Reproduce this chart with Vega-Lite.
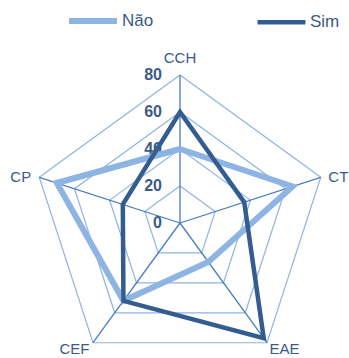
{
  "$schema": "https://vega.github.io/schema/vega-lite/v6.json",
  "width": 349,
  "height": 358,
  "autosize": {"type": "none"},
  "padding": 0,
  "background": "white",
  "config": {"view": {"stroke": null}},
  "datasets": {
    "scores": [
      {"axis": "CCH", "series": "Não", "value": 40},
      {"axis": "CT", "series": "Não", "value": 64},
      {"axis": "EAE", "series": "Não", "value": 26},
      {"axis": "CEF", "series": "Não", "value": 52},
      {"axis": "CP", "series": "Não", "value": 70},
      {"axis": "CCH", "series": "Sim", "value": 60},
      {"axis": "CT", "series": "Sim", "value": 36.5},
      {"axis": "EAE", "series": "Sim", "value": 77},
      {"axis": "CEF", "series": "Sim", "value": 52},
      {"axis": "CP", "series": "Sim", "value": 32.5}
    ],
    "grid": [
      {"axis": "CCH", "level": 0}, {"axis": "CT", "level": 0}, {"axis": "EAE", "level": 0}, {"axis": "CEF", "level": 0}, {"axis": "CP", "level": 0},
      {"axis": "CCH", "level": 20}, {"axis": "CT", "level": 20}, {"axis": "EAE", "level": 20}, {"axis": "CEF", "level": 20}, {"axis": "CP", "level": 20},
      {"axis": "CCH", "level": 40}, {"axis": "CT", "level": 40}, {"axis": "EAE", "level": 40}, {"axis": "CEF", "level": 40}, {"axis": "CP", "level": 40},
      {"axis": "CCH", "level": 60}, {"axis": "CT", "level": 60}, {"axis": "EAE", "level": 60}, {"axis": "CEF", "level": 60}, {"axis": "CP", "level": 60},
      {"axis": "CCH", "level": 80}, {"axis": "CT", "level": 80}, {"axis": "EAE", "level": 80}, {"axis": "CEF", "level": 80}, {"axis": "CP", "level": 80}
    ]
  },
  "encoding": {
    "x": {"field": "x", "type": "quantitative", "scale": {"domain": [-97.3, 91.35], "nice": false, "zero": false}, "axis": null},
    "y": {"field": "y", "type": "quantitative", "scale": {"domain": [-72.97, 120.54], "nice": false, "zero": false}, "axis": null}
  },
  "layer": [
    {
      "data": {"name": "grid"},
      "transform": [
        {"filter": "datum.level > 0"},
        {"calculate": "indexof(['CCH','CT','EAE','CEF','CP'], datum.axis)", "as": "idx"},
        {"calculate": "datum.level * sin(datum.idx * 2 * PI / 5)", "as": "x"},
        {"calculate": "datum.level * cos(datum.idx * 2 * PI / 5)", "as": "y"}
      ],
      "mark": {"type": "line", "interpolate": "linear-closed", "stroke": "#8EB4E3", "strokeWidth": 1.2, "clip": false},
      "encoding": {
        "detail": {"field": "level", "type": "nominal"},
        "order": {"field": "idx", "type": "quantitative"}
      }
    },
    {
      "data": {"name": "grid"},
      "transform": [
        {"filter": "datum.level == 80"},
        {"calculate": "indexof(['CCH','CT','EAE','CEF','CP'], datum.axis)", "as": "idx"},
        {"calculate": "datum.level * sin(datum.idx * 2 * PI / 5)", "as": "x"},
        {"calculate": "datum.level * cos(datum.idx * 2 * PI / 5)", "as": "y"},
        {"calculate": "0", "as": "x0"},
        {"calculate": "0", "as": "y0"}
      ],
      "mark": {"type": "rule", "stroke": "#4A7CBF", "strokeWidth": 1.3},
      "encoding": {
        "x2": {"field": "x0"},
        "y2": {"field": "y0"}
      }
    },
    {
      "data": {"name": "grid"},
      "transform": [
        {"filter": "datum.axis == 'CCH'"},
        {"calculate": "0", "as": "x"},
        {"calculate": "datum.level", "as": "y"}
      ],
      "mark": {"type": "text", "align": "right", "baseline": "middle", "dx": -18, "dy": 0, "font": "Liberation Sans", "fontSize": 16, "fontWeight": "bold", "fill": "#3B5A87"},
      "encoding": {
        "text": {"field": "level", "type": "quantitative"}
      }
    },
    {
      "data": {"name": "scores"},
      "transform": [
        {"calculate": "indexof(['CCH','CT','EAE','CEF','CP'], datum.axis)", "as": "idx"},
        {"calculate": "datum.value * sin(datum.idx * 2 * PI / 5)", "as": "x"},
        {"calculate": "datum.value * cos(datum.idx * 2 * PI / 5)", "as": "y"}
      ],
      "mark": {"type": "line", "interpolate": "linear-closed", "clip": false},
      "encoding": {
        "color": {
          "field": "series", "type": "nominal",
          "scale": {"domain": ["Não", "Sim"], "range": ["#8EB4E3", "#335C90"]},
          "legend": {
            "title": null, "orient": "none", "direction": "horizontal",
            "legendX": 66, "legendY": -6,
            "symbolType": "stroke", "symbolSize": 2300, "symbolStrokeWidth": 5,
            "labelFontSize": 17, "labelFont": "Liberation Sans", "labelColor": "#3B5A87",
            "labelOffset": 2, "columnPadding": 94
          }
        },
        "strokeWidth": {
          "field": "series", "type": "nominal",
          "scale": {"domain": ["Não", "Sim"], "range": [6, 4.5]},
          "legend": null
        },
        "order": {"field": "idx", "type": "quantitative"}
      }
    },
    {
      "data": {"name": "grid"},
      "transform": [
        {"filter": "datum.level == 80"},
        {"calculate": "indexof(['CCH','CT','EAE','CEF','CP'], datum.axis)", "as": "idx"},
        {"calculate": "80 * sin(datum.idx * 2 * PI / 5) + (datum.idx == 0 ? 0 : (datum.idx <= 2 ? 9.5 : -10))", "as": "x"},
        {"calculate": "80 * cos(datum.idx * 2 * PI / 5) + (datum.idx == 0 ? 9.2 : ((datum.idx == 1 || datum.idx == 4) ? 0 : -3.6))", "as": "y"}
      ],
      "mark": {"type": "text", "align": "center", "baseline": "middle", "font": "Liberation Sans", "fontSize": 15, "fill": "#3B5A87"},
      "encoding": {
        "text": {"field": "axis", "type": "nominal"}
      }
    }
  ]
}
